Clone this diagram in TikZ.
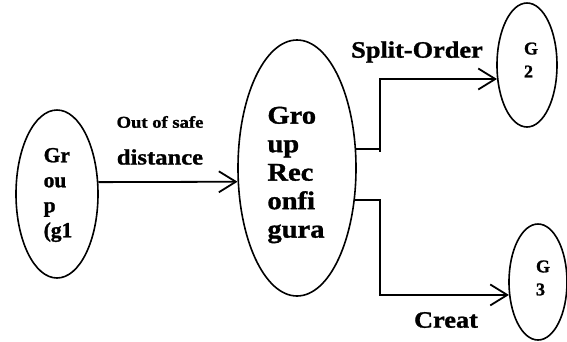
\documentclass[tikz,border=0pt]{standalone}
\usepackage{fontspec}
\setmainfont{Liberation Serif}[BoldFeatures={FakeBold=1.2}]
\newfontfamily\widefont{Liberation Serif}[FakeStretch=1.12,BoldFeatures={FakeBold=1.2}]
\usetikzlibrary{arrows.meta,calc,shapes.geometric}
\begin{document}
\begin{tikzpicture}[x=1pt,y=-1pt,
  oval/.style={draw,line width=1.6pt,ellipse,inner sep=0pt},
  link/.style={line width=1.8pt},
  arr/.style={link,-{Straight Barb[length=17pt,width=21pt]}},
  lbl/.style={align=left,inner sep=0pt}]
\useasboundingbox (0,0) rectangle (567,341);

% states
\node[oval,minimum width=82pt,minimum height=168pt] (g1) at (57,194) {};
\node[oval,minimum width=118pt,minimum height=256pt] (recon) at (297,168) {};
\node[oval,minimum width=60pt,minimum height=124pt] (g2) at (527,65) {};
\node[oval,minimum width=58pt,minimum height=116pt] (g3) at (538,282) {};

% state names
\node[lbl,font=\bfseries\fontsize{21.5}{25}\selectfont] (t1) at (58,195) {Gr\\ou\\p\\(g1};
\node[lbl,font=\widefont\bfseries\fontsize{25.5}{28.5}\selectfont] (t2) at (296,175) {Gro\\up\\Rec\\onfi\\gura};
\node[lbl,font=\bfseries\fontsize{18}{23}\selectfont] (t3) at (531,60) {G\\2};
\node[lbl,font=\bfseries\fontsize{18}{23}\selectfont] (t4) at (543,278) {G\\3};

% transitions
\coordinate (j) at (380,0);
\draw[arr] (g1.16.5) -- (recon.193.4);
\draw[link] (recon.18.9) -- (recon.18.9 -| j);
\draw[arr] ($(recon.18.9 -| j)+(0,3)$) |- (g2.205.6);
\draw[arr] (recon.331.5) -| (j |- g3.204.7) -- (g3.204.7);

% transition labels
\node[lbl,font=\widefont\bfseries\fontsize{16.6}{18}\selectfont] (l1) at (160,122) {Out of safe};
\node[lbl,font=\widefont\bfseries\fontsize{22}{24}\selectfont] (l2) at (160,157) {distance};
\node[lbl,font=\widefont\bfseries\fontsize{23.5}{26}\selectfont] (l3) at (417,52) {Split-Order};
\node[lbl,font=\widefont\bfseries\fontsize{23.5}{26}\selectfont] (l4) at (446,320) {Creat};
\end{tikzpicture}
\end{document}
